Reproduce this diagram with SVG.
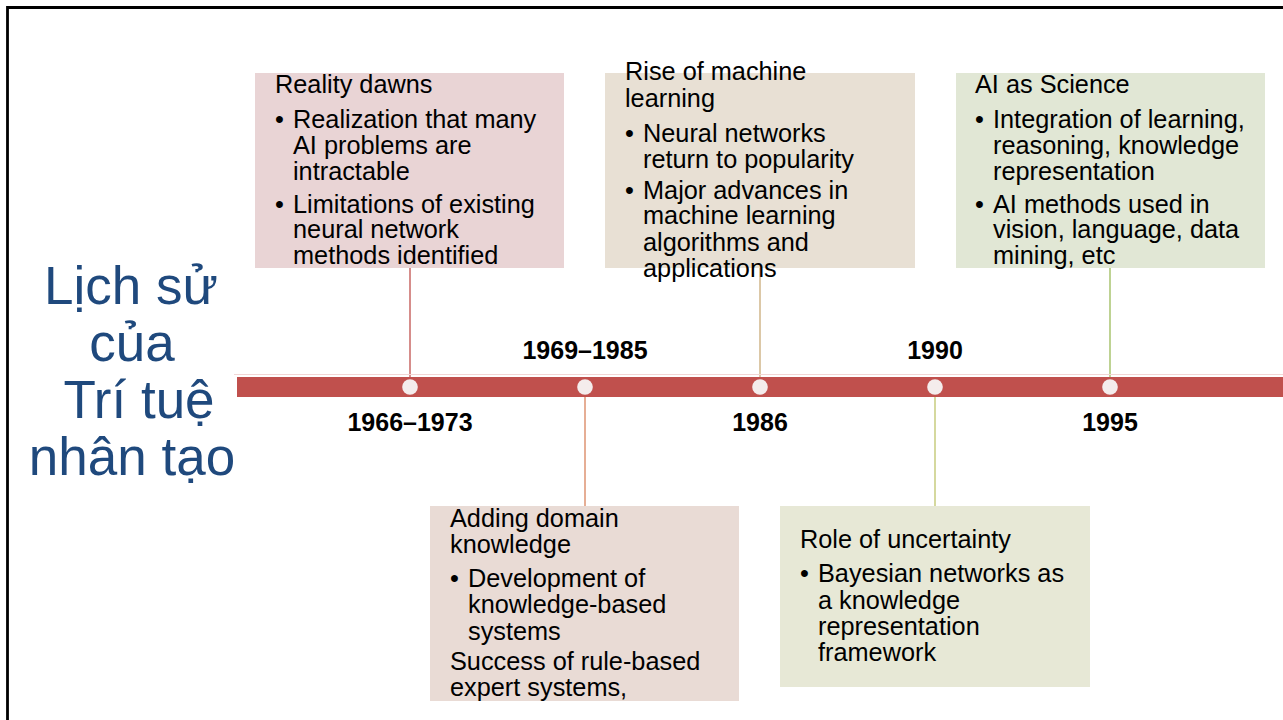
<svg xmlns="http://www.w3.org/2000/svg" width="1283" height="720" viewBox="0 0 1283 720">
<style>
.t{font-family:"Liberation Sans",Arial,sans-serif;font-size:25.3px;fill:#000}
.y{font-family:"Liberation Sans",Arial,sans-serif;font-size:25px;font-weight:bold;fill:#000;text-anchor:middle}
.h{font-family:"Liberation Sans",Arial,sans-serif;font-size:53px;fill:#1f497d;text-anchor:middle}
.dot{fill:#f4ecec}
.c{stroke-width:1.3;fill:none}
</style>
<rect width="1283" height="720" fill="#fff"/>
<path d="M7.5,720 V7.5 H1283" fill="none" stroke="#000" stroke-width="2.8"/>
<g id="title">
<text class="h" x="131" y="304">Lịch sử</text>
<text class="h" x="132" y="361">của</text>
<text class="h" x="139" y="418">Trí tuệ</text>
<text class="h" x="132" y="475">nhân tạo</text>
</g>
<g id="connectors">
<line class="c" x1="410" y1="268" x2="410" y2="377" stroke="#c0504d"/>
<line class="c" x1="585" y1="397" x2="585" y2="506" stroke="#d9835c"/>
<line class="c" x1="760" y1="268" x2="760" y2="377" stroke="#c9ab78"/>
<line class="c" x1="935" y1="397" x2="935" y2="506" stroke="#bfc46a"/>
<line class="c" x1="1110" y1="268" x2="1110" y2="377" stroke="#9bbb59"/>
</g>
<g id="timeline">
<line x1="234" y1="374.5" x2="1283" y2="374.5" stroke="#f2d6d5" stroke-width="1"/>
<rect x="237" y="377" width="1046" height="20" fill="#c0504d"/>
<circle class="dot" cx="410" cy="387" r="7.8"/>
<circle class="dot" cx="585" cy="387" r="7.8"/>
<circle class="dot" cx="760" cy="387" r="7.8"/>
<circle class="dot" cx="935" cy="387" r="7.8"/>
<circle class="dot" cx="1110" cy="387" r="7.8"/>
<text class="y" x="410" y="431">1966–1973</text>
<text class="y" x="585" y="359">1969–1985</text>
<text class="y" x="760" y="431">1986</text>
<text class="y" x="935" y="359">1990</text>
<text class="y" x="1110" y="431">1995</text>
</g>
<g id="box1966">
<rect x="255" y="73" width="309" height="195" fill="#e9d4d5"/>
<text class="t" x="275" y="93">Reality dawns</text>
<text class="t" x="275" y="128">•</text>
<text class="t" x="293" y="128">Realization that many</text>
<text class="t" x="293" y="154">AI problems are</text>
<text class="t" x="293" y="180">intractable</text>
<text class="t" x="275" y="213">•</text>
<text class="t" x="293" y="213">Limitations of existing</text>
<text class="t" x="293" y="238">neural network</text>
<text class="t" x="293" y="264">methods identified</text>
</g>
<g id="box1969">
<rect x="430" y="506" width="309" height="195" fill="#e9dbd5"/>
<text class="t" x="450" y="527">Adding domain</text>
<text class="t" x="450" y="553">knowledge</text>
<text class="t" x="450" y="587">•</text>
<text class="t" x="468" y="587">Development of</text>
<text class="t" x="468" y="613">knowledge-based</text>
<text class="t" x="468" y="640">systems</text>
<text class="t" x="450" y="670">Success of rule-based</text>
<text class="t" x="450" y="696">expert systems,</text>
</g>
<g id="box1986">
<rect x="605" y="73" width="310" height="195" fill="#e8e0d4"/>
<text class="t" x="625" y="80">Rise of machine</text>
<text class="t" x="625" y="107">learning</text>
<text class="t" x="625" y="142">•</text>
<text class="t" x="643" y="142">Neural networks</text>
<text class="t" x="643" y="168">return to popularity</text>
<text class="t" x="625" y="199">•</text>
<text class="t" x="643" y="199">Major advances in</text>
<text class="t" x="643" y="224">machine learning</text>
<text class="t" x="643" y="251">algorithms and</text>
<text class="t" x="643" y="277">applications</text>
</g>
<g id="box1990">
<rect x="780" y="506" width="310" height="181" fill="#e7e8d6"/>
<text class="t" x="800" y="548">Role of uncertainty</text>
<text class="t" x="800" y="582">•</text>
<text class="t" x="818" y="582">Bayesian networks as</text>
<text class="t" x="818" y="609">a knowledge</text>
<text class="t" x="818" y="635">representation</text>
<text class="t" x="818" y="661">framework</text>
</g>
<g id="box1995">
<rect x="956" y="73" width="309" height="195" fill="#e1e7d5"/>
<text class="t" x="975" y="93">AI as Science</text>
<text class="t" x="975" y="128">•</text>
<text class="t" x="993" y="128">Integration of learning,</text>
<text class="t" x="993" y="154">reasoning, knowledge</text>
<text class="t" x="993" y="180">representation</text>
<text class="t" x="975" y="213">•</text>
<text class="t" x="993" y="213">AI methods used in</text>
<text class="t" x="993" y="238">vision, language, data</text>
<text class="t" x="993" y="264">mining, etc</text>
</g>
</svg>
